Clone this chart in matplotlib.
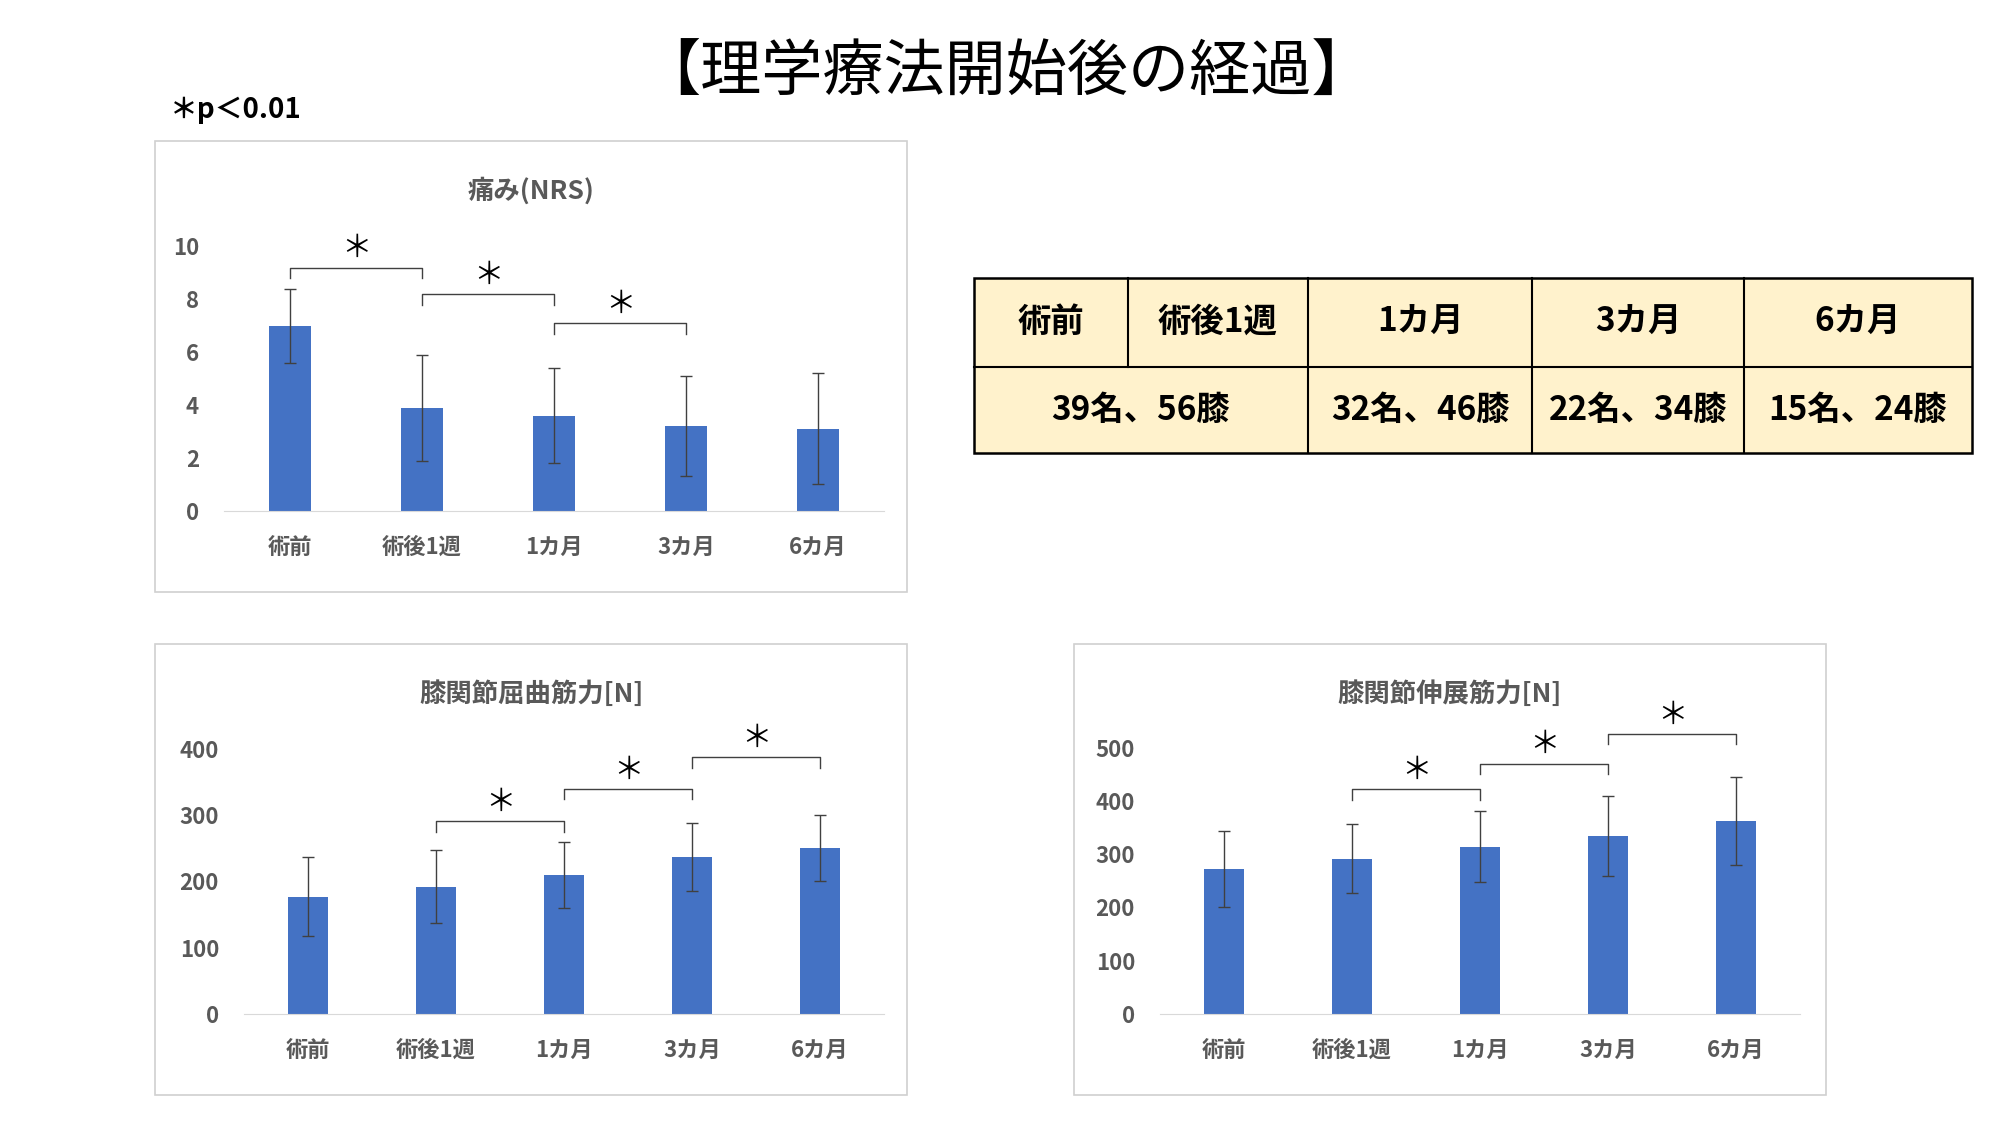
import matplotlib
matplotlib.use("Agg")
import matplotlib.pyplot as plt
from matplotlib.patches import Rectangle

plt.rcParams["font.family"] = ["Noto Sans CJK JP", "DejaVu Sans"]

labels = ["術前", "術後1週", "1カ月", "3カ月", "6カ月"]
pain_mean = [7.0, 3.9, 3.6, 3.2, 3.1]
pain_sd = [1.4, 2.0, 1.8, 1.9, 2.1]
flex_mean = [177, 192, 210, 237, 251]
flex_sd = [60, 55, 50, 52, 50]
ext_mean = [272, 292, 314, 335, 362]
ext_sd = [72, 65, 67, 75, 83]

pain_sig = [(0, 1, 9.2), (1, 2, 8.2), (2, 3, 7.1)]
flex_sig = [(1, 2, 291), (2, 3, 340), (3, 4, 388)]
ext_sig = [(1, 2, 423), (2, 3, 471), (3, 4, 527)]

table_head = ["術前", "術後1週", "1カ月", "3カ月", "6カ月"]
table_n = ["39名、56膝", "32名、46膝", "22名、34膝", "15名、24膝"]

fig = plt.figure(figsize=(20, 11.25), dpi=100, facecolor="w")
gray = "#595959"


def panel(box, rect, title, mean, sd, sig, ymax, step, tick):
    # frame of the chart area
    fig.patches.append(Rectangle((box[0], box[1]), box[2], box[3], transform=fig.transFigure,
                                 fill=False, edgecolor="#D0D0D0", lw=1.2))
    fig.text(box[0] + box[2] / 2, box[1] + box[3] - 0.045, title, ha="center", va="center",
             fontsize=19, color=gray, fontweight="bold")
    ax = fig.add_axes(rect)
    x = range(len(mean))
    ax.bar(x, mean, width=0.32, color="#4472C4", zorder=2)
    ax.errorbar(x, mean, yerr=sd, fmt="none", ecolor="#404040", elinewidth=1, capsize=4, zorder=3)
    ax.set_ylim(0, ymax)
    ax.set_xlim(-0.5, 4.5)
    ax.set_yticks(range(0, ymax + 1, step))
    ax.set_xticks(list(x))
    ax.set_xticklabels(labels)
    for s in ["top", "right", "left"]:
        ax.spines[s].set_visible(False)
    ax.spines["bottom"].set_color("#D9D9D9")
    ax.tick_params(axis="both", length=0, labelsize=16, colors=gray, pad=tick)
    for lab in ax.get_xticklabels() + ax.get_yticklabels():
        lab.set_fontweight("bold")
    d = ymax * 0.04
    for a, b, y in sig:
        ax.plot([a, a, b, b], [y - d, y, y, y - d], color="#404040", lw=1, clip_on=False)
        ax.text((a + b) / 2, y + d * 0.3, "＊", ha="center", va="bottom", fontsize=22,
                color="black", clip_on=False)
    return ax


panel((0.0776, 0.474, 0.376, 0.401), (0.112, 0.546, 0.330, 0.235),
      "痛み(NRS)", pain_mean, pain_sd, pain_sig, 10, 2, 18)
panel((0.0776, 0.027, 0.376, 0.401), (0.122, 0.099, 0.320, 0.235),
      "膝関節屈曲筋力[N]", flex_mean, flex_sd, flex_sig, 400, 100, 18)
panel((0.537, 0.027, 0.376, 0.401), (0.580, 0.099, 0.320, 0.236),
      "膝関節伸展筋力[N]", ext_mean, ext_sd, ext_sig, 500, 100, 18)

# table
xs = [0.487, 0.564, 0.654, 0.766, 0.872, 0.986]
yt, ym, yb = 0.753, 0.674, 0.597
fig.patches.append(Rectangle((xs[0], yb), xs[-1] - xs[0], yt - yb, transform=fig.transFigure,
                             facecolor="#FFF2CC", edgecolor="black", lw=1.8))
fig.lines.append(plt.Line2D([xs[0], xs[-1]], [ym, ym], transform=fig.transFigure, color="black", lw=1.5))
for i, xv in enumerate(xs[1:-1]):
    y0 = ym if i == 0 else yb
    fig.lines.append(plt.Line2D([xv, xv], [y0, yt], transform=fig.transFigure, color="black", lw=1.5))
for i, h in enumerate(table_head):
    fig.text((xs[i] + xs[i + 1]) / 2, (yt + ym) / 2, h, ha="center", va="center",
             fontsize=24, fontweight="bold")
ncent = [(xs[0] + xs[2]) / 2, (xs[2] + xs[3]) / 2, (xs[3] + xs[4]) / 2, (xs[4] + xs[5]) / 2]
for cx, t in zip(ncent, table_n):
    fig.text(cx, (ym + yb) / 2, t, ha="center", va="center", fontsize=24, fontweight="bold")

fig.text(0.503, 0.935, "【理学療法開始後の経過】", ha="center", va="center", fontsize=44)
fig.text(0.085, 0.902, "＊p＜0.01", ha="left", va="center", fontsize=20, fontweight="bold")

plt.savefig("out.png", dpi=100)
plt.close()
